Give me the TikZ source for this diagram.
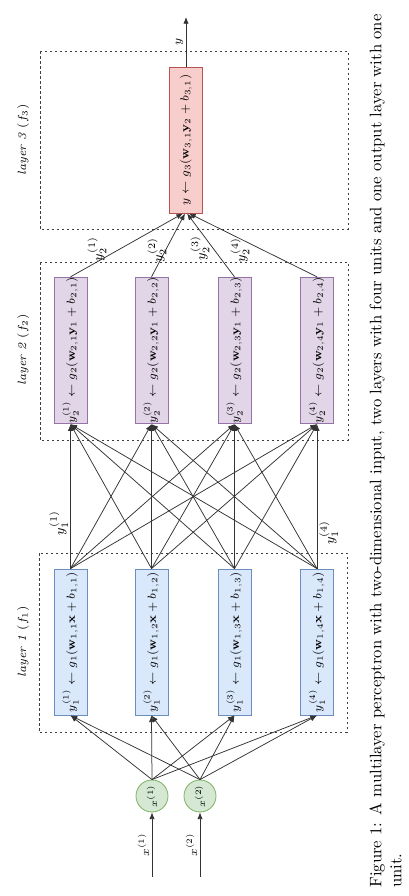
\documentclass[tikz,border=0pt]{standalone}
\usepackage{amsmath}
\usetikzlibrary{calc,arrows.meta,positioning}
\definecolor{l1fill}{HTML}{DAE8FC}\definecolor{l1line}{HTML}{6C8EBF}
\definecolor{l2fill}{HTML}{E1D5E7}\definecolor{l2line}{HTML}{9673A6}
\definecolor{l3fill}{HTML}{F8CECC}\definecolor{l3line}{HTML}{B85450}
\definecolor{infill}{HTML}{D5E8D4}\definecolor{inline}{HTML}{82B366}
\tikzset{wire/.style={draw=black!80,line width=0.45pt},arrowwire/.style={wire,-{Latex[length=4pt,width=3.2pt]}}}

\begin{document}
\begin{tikzpicture}[x=0.6pt,y=-0.6pt]

\tikzset{unitnode/.style={rotate=90,inner sep=0pt,minimum width=87.6pt,minimum height=19.8pt,font=\fontsize{7.4}{9}\selectfont,line width=0.5pt},
bluenode/.style={unitnode,fill=l1fill,draw=l1line},
purplenode/.style={unitnode,fill=l2fill,draw=l2line},
rednode/.style={unitnode,fill=l3fill,draw=l3line},
greennode/.style={shape=circle,inner sep=0pt,minimum size=19.2pt,fill=infill,draw=inline,font=\fontsize{6.5}{7}\selectfont,line width=0.5pt},
layerbox/.style={draw=black!75,line width=0.4pt,dash pattern=on 1.5pt off 1.5pt},
layerlabel/.style={rotate=90,font=\fontsize{7.2}{8}\selectfont},
edgelabel/.style={rotate=90,inner sep=1.2pt,font=\fontsize{8.5}{10}\selectfont},
smalllabel/.style={rotate=90,inner sep=1.5pt,font=\fontsize{7}{8}\selectfont}}

\useasboundingbox (0,0) rectangle (408,896);

% Layer frames
\draw[layerbox] (40,51) rectangle (348,229);
\draw[layerbox] (40,262) rectangle (348,440);
\draw[layerbox] (39,553) rectangle (347,732);
\node[layerlabel] (lab3) at (23,140) {\textit{layer 3} ($f_3$)};
\node[layerlabel] (lab2) at (23,350) {\textit{layer 2} ($f_2$)};
\node[layerlabel] (lab1) at (23,642) {\textit{layer 1} ($f_1$)};

% Inputs
\node[greennode] (x1) at (152,796) {\rotatebox{90}{$x^{(1)}$}};
\node[greennode] (x2) at (200,796) {\rotatebox{90}{$x^{(2)}$}};
\coordinate (in1) at (152,877);
\coordinate (in2) at (200,877);

% Units
\foreach \x [count=\i] in {70.5,151.5,234.5,317} \node[bluenode] (b\i) at (\x,642) {$y_1^{(\i)} \leftarrow g_1(\mathbf{w}_{1,\i}\mathbf{x}+b_{1,\i})$};
\foreach \x [count=\i] in {70.5,151.5,234.5,317} \node[purplenode] (p\i) at (\x,350.5) {$y_2^{(\i)} \leftarrow g_2(\mathbf{w}_{2,\i}\mathbf{y}_1+b_{2,\i})$};
\node[rednode] (r1) at (186,140) {$y \leftarrow g_3(\mathbf{w}_{3,1}\mathbf{y}_2+b_{3,1})$};
\coordinate (out) at (186,17);

% Edges into layer 1
\draw[arrowwire] (in1) -- node[smalllabel,midway,anchor=south] {$x^{(1)}$} (x1.south);
\draw[arrowwire] (in2) -- node[smalllabel,midway,anchor=south] {$x^{(2)}$} (x2.south);
\foreach \i in {1,2,3,4} {\draw[arrowwire] (x1.north) -- (b\i.west); \draw[arrowwire] (x2.north) -- (b\i.west);}

% Edges into layer 2
\foreach \i in {1,2,3,4} \foreach \j in {1,2,3,4} \draw[arrowwire] (b\i.east) -- (p\j.west);
\node[edgelabel,anchor=south] (ly11) at ($(b1.east)!0.315!(p1.west)$) {$y_1^{(1)}$};
\node[edgelabel,anchor=north] (ly14) at ($(b4.east)!0.25!(p4.west)$) {$y_1^{(4)}$};

% Edges into layer 3
\foreach \i/\dx in {1/-3,2/-1,3/1,4/3} \draw[arrowwire] (p\i.east) -- ($(r1.west)+(\dx,0)$);
\node[edgelabel] (ly21) at (97,249) {$y_2^{(1)}$};
\node[edgelabel] (ly22) at (157,250) {$y_2^{(2)}$};
\node[edgelabel] (ly23) at (200,248) {$y_2^{(3)}$};
\node[edgelabel] (ly24) at (240,250) {$y_2^{(4)}$};

% Output
\draw[arrowwire] (r1.east) -- node[smalllabel,midway,anchor=south] {$y$} (out);

% Caption
\node[rotate=90,anchor=north west,inner sep=0pt,text width=524pt,align=justify,font=\normalsize] (caption) at (369,888) {Figure 1: A multilayer perceptron with two-dimensional input, two layers with four units and one output layer with one\linebreak unit.};

\end{tikzpicture}
\end{document}
